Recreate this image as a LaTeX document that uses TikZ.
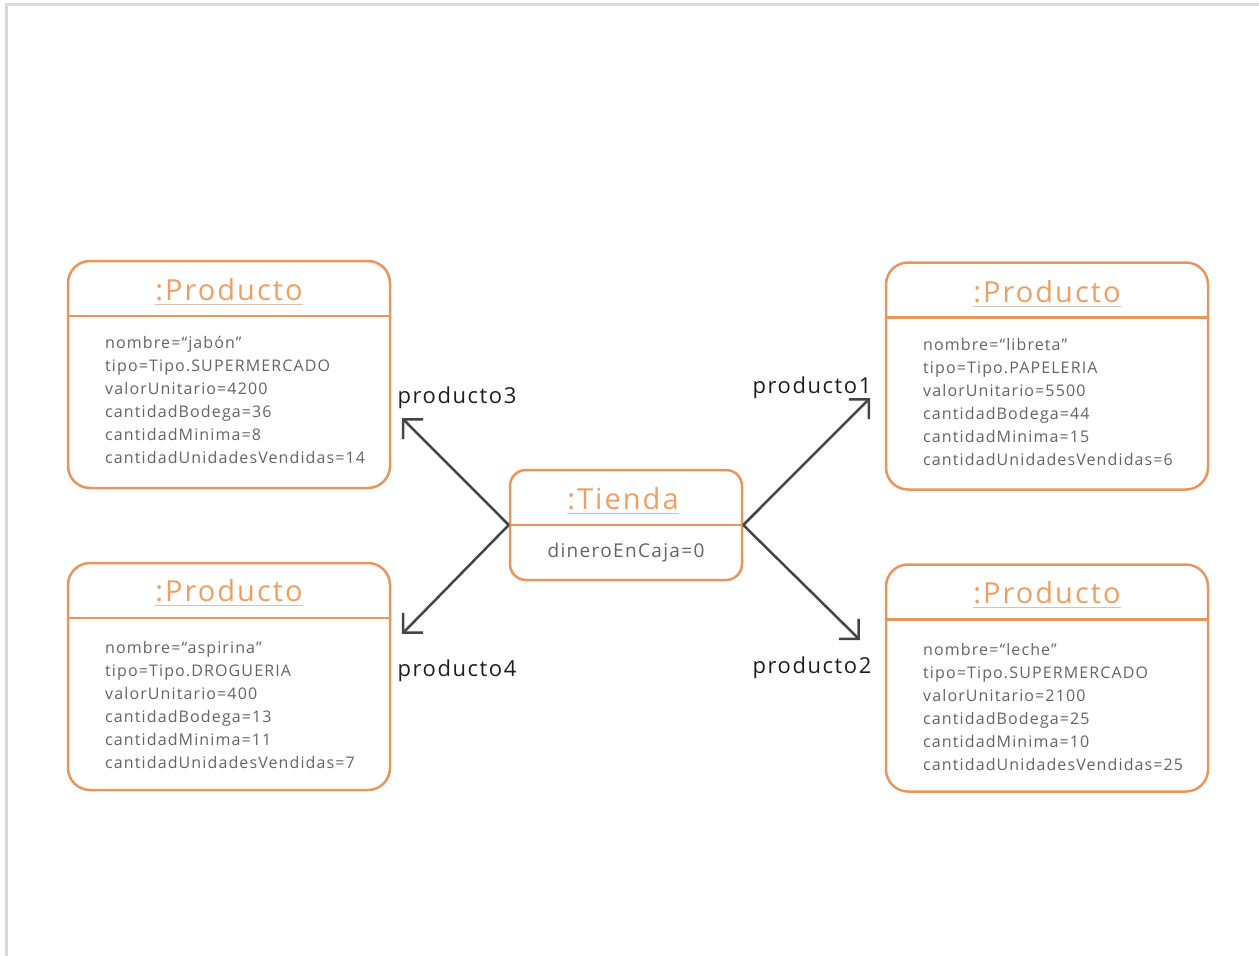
\documentclass[tikz,border=0pt]{standalone}
\usepackage{fontspec}
\setmainfont[LetterSpace=7]{Open Sans}
\usepackage{tikz}
\usetikzlibrary{arrows.meta, positioning, calc}
\definecolor{myorange}{RGB}{232,150,92}
\definecolor{mytitle}{RGB}{238,160,100}
\definecolor{mytext}{RGB}{100,100,100}
\definecolor{mydark}{RGB}{30,30,30}
\definecolor{myarrow}{RGB}{68,68,68}
\definecolor{myframe}{RGB}{217,217,217}
\definecolor{myunder}{RGB}{205,195,190}
\tikzset{
  objbox/.style={rectangle, draw=myorange, fill=white, line width=2.5pt,
    rounded corners=22pt, minimum width=322pt, minimum height=227pt},
  objrule/.style={draw=myorange, line width=2.5pt},
  objtitle/.style={inner sep=0pt, text=mytitle, font=\fontsize{29}{34}\selectfont},
  titleline/.style={draw=myunder, line width=1pt},
  objattr/.style={inner sep=0pt, anchor=north west, align=left, text=mytext,
    font=\fontsize{16}{23}\selectfont},
  rolelabel/.style={inner sep=0pt, text=mydark, font=\fontsize{22}{26}\selectfont},
  link/.style={-{Straight Barb[length=14pt, width=28pt, line width=2.5pt]},
    line width=2.5pt, color=myarrow}
}
\begin{document}
\begin{tikzpicture}[x=1pt, y=-1pt]
  \useasboundingbox (0,0) rectangle (1259,956);
  % Frame
  \draw[myframe, line width=3pt] (6,956) -- (6,4) -- (1259,4);

  % Producto 3 (top left)
  \node[objbox] (p3) at (229,374.5) {};
  \draw[objrule] ($(p3.north west)+(0,56)$) -- ($(p3.north east)+(0,56)$);
  \node[objtitle] (t3) at (229,290) {:Producto};
  \draw[titleline] ($(t3.base west)+(0,4)$) -- ($(t3.base east)+(0,4)$);
  \node[objattr] (a3) at (105,336) {nombre=“jabón”\\tipo=Tipo.SUPERMERCADO\\valorUnitario=4200\\cantidadBodega=36\\cantidadMinima=8\\cantidadUnidadesVendidas=14};

  % Producto 4 (bottom left)
  \node[objbox] (p4) at (229,676.5) {};
  \draw[objrule] ($(p4.north west)+(0,56)$) -- ($(p4.north east)+(0,56)$);
  \node[objtitle] (t4) at (229,591) {:Producto};
  \draw[titleline] ($(t4.base west)+(0,4)$) -- ($(t4.base east)+(0,4)$);
  \node[objattr] (a4) at (105,641) {nombre=“aspirina”\\tipo=Tipo.DROGUERIA\\valorUnitario=400\\cantidadBodega=13\\cantidadMinima=11\\cantidadUnidadesVendidas=7};

  % Producto 1 (top right)
  \node[objbox] (p1) at (1047,376) {};
  \draw[objrule] ($(p1.north west)+(0,56)$) -- ($(p1.north east)+(0,56)$);
  \node[objtitle] (t1) at (1047,292) {:Producto};
  \draw[titleline] ($(t1.base west)+(0,4)$) -- ($(t1.base east)+(0,4)$);
  \node[objattr] (a1) at (923,338) {nombre=“libreta”\\tipo=Tipo.PAPELERIA\\valorUnitario=5500\\cantidadBodega=44\\cantidadMinima=15\\cantidadUnidadesVendidas=6};

  % Producto 2 (bottom right)
  \node[objbox] (p2) at (1047,678) {};
  \draw[objrule] ($(p2.north west)+(0,56)$) -- ($(p2.north east)+(0,56)$);
  \node[objtitle] (t2) at (1047,593) {:Producto};
  \draw[titleline] ($(t2.base west)+(0,4)$) -- ($(t2.base east)+(0,4)$);
  \node[objattr] (a2) at (923,643) {nombre=“leche”\\tipo=Tipo.SUPERMERCADO\\valorUnitario=2100\\cantidadBodega=25\\cantidadMinima=10\\cantidadUnidadesVendidas=25};

  % Tienda
  \node[objbox, minimum width=232pt, minimum height=110pt, rounded corners=16pt] (tienda) at (626,525) {};
  \draw[objrule] (tienda.west) -- (tienda.east);
  \node[objtitle] (tt) at (623,499) {:Tienda};
  \draw[titleline] ($(tt.base west)+(0,4)$) -- ($(tt.base east)+(0,4)$);
  \node[objattr, anchor=center, font=\fontsize{19}{23}\selectfont] (at) at (626,553) {dineroEnCaja=0};

  % Links
  \coordinate (e3) at (402,418);
  \coordinate (e4) at (402,634);
  \coordinate (e1) at (870,398);
  \coordinate (e2) at (860,640);
  \draw[link] (tienda.west) -- (e3);
  \draw[link] (tienda.west) -- (e4);
  \draw[link] (tienda.east) -- (e1);
  \draw[link] (tienda.east) -- (e2);

  \node[rolelabel] (l3) at (457,398) {producto3};
  \node[rolelabel] (l4) at (457,671) {producto4};
  \node[rolelabel] (l1) at (812,388) {producto1};
  \node[rolelabel] (l2) at (812,668) {producto2};
\end{tikzpicture}
\end{document}
